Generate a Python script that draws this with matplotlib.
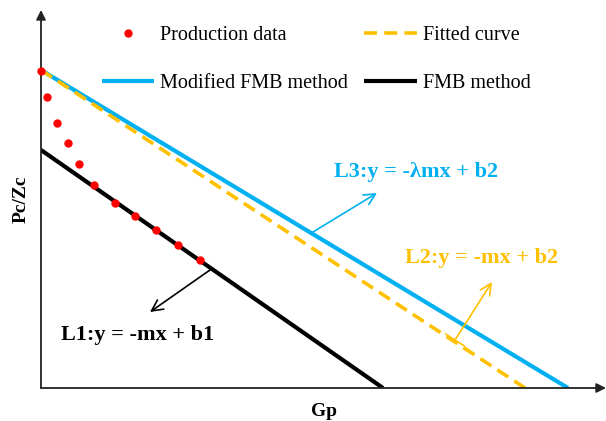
import numpy as np
import matplotlib.pyplot as plt

plt.rcParams['font.family'] = ['Liberation Serif', 'DejaVu Serif']

# production data (arbitrary units)
gp_data = [0.0, 0.12, 0.31, 0.53, 0.75, 1.05, 1.47, 1.88, 2.29, 2.73, 3.18]
pz_data = [6.35, 5.82, 5.31, 4.89, 4.47, 4.05, 3.70, 3.43, 3.15, 2.85, 2.56]

# straight lines: intercept b and x-intercept
b1 = 4.76
b2 = 6.36
x_fmb = 6.84       # L1 hits zero
x_fit = 9.68       # L2 hits zero
x_mod = 10.54      # L3 hits zero

blue = '#00B0F0'
orange = '#FFC000'

fig = plt.figure(figsize=(6.06, 4.21), dpi=100)
ax = fig.add_axes([41 / 606, 33 / 421, 565 / 606, 378 / 421])
ax.set_xlim(0, 11.3)
ax.set_ylim(0, 7.56)

# lines
ax.plot([0, x_mod], [b2, 0], color=blue, lw=3, label='Modified FMB method',
        solid_capstyle='butt', zorder=2)
ax.plot([0, x_fit], [b2, 0], color=orange, lw=2.6, ls=(0, (3.6, 2.0)),
        label='Fitted curve', zorder=3)
ax.plot([0, x_fmb], [b1, 0], color='black', lw=3, label='FMB method',
        solid_capstyle='butt', zorder=2)
ax.plot(gp_data, pz_data, 'o', color='red', ms=5, label='Production data',
        zorder=4, clip_on=False)

# axes with arrows
for s in ax.spines.values():
    s.set_visible(False)
ax.set_xticks([])
ax.set_yticks([])
ax.annotate('', xy=(1.0, 0), xytext=(0, 0), xycoords='axes fraction',
            arrowprops=dict(arrowstyle='-|>', color='#222222', lw=1.3,
                            mutation_scale=14, shrinkA=0, shrinkB=0))
ax.annotate('', xy=(0, 1.0), xytext=(0, 0), xycoords='axes fraction',
            arrowprops=dict(arrowstyle='-|>', color='#222222', lw=1.3,
                            mutation_scale=14, shrinkA=0, shrinkB=0))

ax.set_xlabel('Gp', fontsize=14, fontweight='bold', labelpad=11)
ax.set_ylabel('Pc/Zc', fontsize=14, fontweight='bold', labelpad=8)

# equation labels
ax.text(7.5, 4.32, 'L3:y = -λmx + b2', color=blue, fontsize=16,
        fontweight='bold', ha='center', va='center')
ax.annotate('', xy=(6.72, 3.9), xytext=(5.44, 3.12),
            arrowprops=dict(arrowstyle='->', color=blue, lw=1.2,
                            mutation_scale=20, shrinkA=0, shrinkB=0))

ax.text(8.82, 2.6, 'L2:y = -mx + b2', color=orange, fontsize=16,
        fontweight='bold', ha='center', va='center')
ax.annotate('', xy=(9.02, 2.12), xytext=(8.28, 0.96),
            arrowprops=dict(arrowstyle=']->, widthA=0.4, lengthA=0',
                            color=orange, lw=1.2, mutation_scale=20,
                            shrinkA=0, shrinkB=0))

ax.text(1.94, 1.06, 'L1:y = -mx + b1', color='black', fontsize=16,
        fontweight='bold', ha='center', va='center')
ax.annotate('', xy=(2.18, 1.52), xytext=(3.38, 2.36),
            arrowprops=dict(arrowstyle='->', color='black', lw=1.2,
                            mutation_scale=20, shrinkA=0, shrinkB=0))

# legend
h, l = ax.get_legend_handles_labels()
order = [3, 0, 1, 2]
ax.legend([h[i] for i in order], [l[i] for i in order], ncol=2,
          loc='upper left', bbox_to_anchor=(0.108, 0.957), frameon=False,
          borderpad=0, borderaxespad=0,
          fontsize=14.5, handlelength=2.6, handletextpad=0.3,
          columnspacing=0.8, labelspacing=1.4, numpoints=1)

fig.savefig('out.png', dpi=100)
